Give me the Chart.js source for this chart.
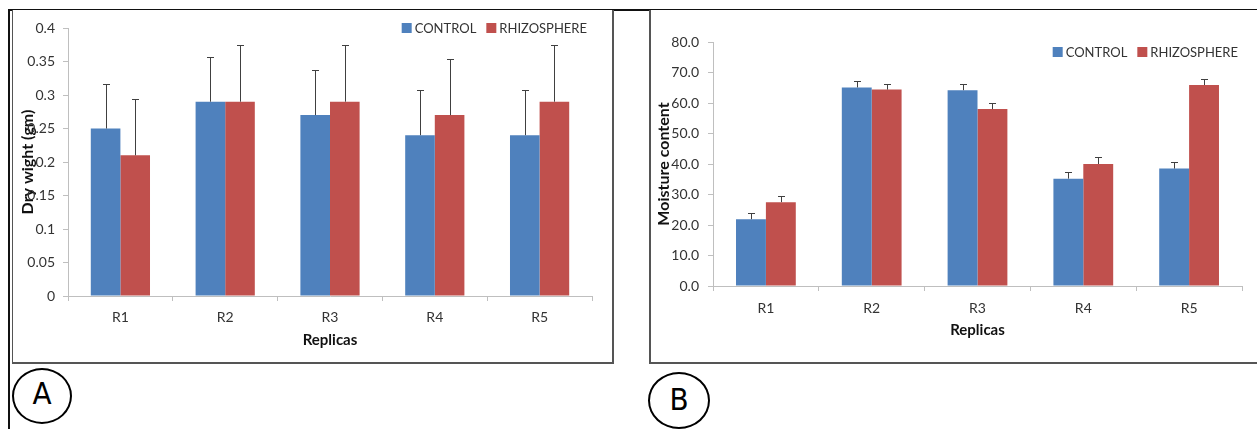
<!DOCTYPE html>
<html>
<head>
<meta charset="utf-8">
<script src="https://cdn.jsdelivr.net/npm/chart.js@4.4.0/dist/chart.umd.min.js"></script>
<style>
  html, body { margin: 0; padding: 0; background: #fff; }
  body { width: 1257px; height: 429px; position: relative; overflow: hidden; }
  .line { position: absolute; background: #111; }
  .panel { position: absolute; box-sizing: border-box; background: #fff; }
  #panelA { left: 12px; top: 10px; width: 602px; height: 354px; border: 2px solid #555; border-top: none; border-left-width: 1.5px; }
  #panelB { left: 649px; top: 10px; width: 620px; height: 354px; border: 2px solid #555; border-top: none; border-right: none; }
  .wrap { position: absolute; }
  .tag {
    position: absolute; box-sizing: border-box; border: 2px solid #000; border-radius: 50%;
    display: flex; align-items: center; justify-content: center;
    font-family: "Liberation Sans Narrow", "DejaVu Sans Condensed", sans-serif;
    font-size: 31px; color: #000; line-height: 1;
  }
</style>
</head>
<body>
<div class="line" style="left:8px; top:9px; width:1249px; height:2px;"></div>
<div class="line" style="left:8px; top:9px; width:2px; height:420px;"></div>
<div class="panel" id="panelA"></div>
<div class="panel" id="panelB"></div>
<div class="wrap" style="left:14px; top:11px; width:598px; height:351px;"><canvas id="chartA" width="598" height="351"></canvas></div>
<div class="wrap" style="left:651px; top:11px; width:606px; height:351px;"><canvas id="chartB" width="606" height="351"></canvas></div>
<div class="tag" style="left:12px; top:368px; width:60px; height:56px; padding-bottom:6px;">A</div>
<div class="tag" style="left:648px; top:372px; width:62px; height:57px; padding-bottom:2px;">B</div>

<script>
// ─── Data ─────────────────────────────────────────────
const replicas = ['R1', 'R2', 'R3', 'R4', 'R5'];

const dryControl = [0.25, 0.29, 0.27, 0.24, 0.24];
const dryRhizo   = [0.21, 0.29, 0.29, 0.27, 0.29];
const dryControlErr = [0.067, 0.066, 0.067, 0.067, 0.067];
const dryRhizoErr   = [0.084, 0.085, 0.085, 0.083, 0.085];
const dryTicks = ['0', '0.05', '0.1', '0.15', '0.2', '0.25', '0.3', '0.35', '0.4'];

const moistControl = [21.9, 65.1, 64.2, 35.2, 38.5];
const moistRhizo   = [27.5, 64.4, 58.0, 40.0, 65.9];
const moistControlErr = [2.1, 2.1, 2.0, 2.1, 2.1];
const moistRhizoErr   = [2.0, 1.9, 2.0, 2.2, 2.0];
const moistTicks = ['0.0', '10.0', '20.0', '30.0', '40.0', '50.0', '60.0', '70.0', '80.0'];

const BLUE = '#4F81BD';
const RED  = '#C0504D';
const AXIS = '#bfbfbf';
const FONT = 'Lato';

// ─── Plugins ──────────────────────────────────────────
const errorBars = {
  id: 'errorBars',
  afterDatasetsDraw(chart) {
    const { ctx } = chart;
    const y = chart.scales.y;
    ctx.save();
    ctx.strokeStyle = '#404040';
    ctx.lineWidth = 1;
    chart.data.datasets.forEach((ds, di) => {
      const meta = chart.getDatasetMeta(di);
      meta.data.forEach((bar, i) => {
        const top = Math.round(y.getPixelForValue(ds.data[i] + ds.errors[i])) + 0.5;
        const x = Math.round(bar.x) + 0.5;
        ctx.beginPath();
        ctx.moveTo(x, bar.y);
        ctx.lineTo(x, top);
        ctx.moveTo(x - 3.5, top);
        ctx.lineTo(x + 3.5, top);
        ctx.stroke();
      });
    });
    ctx.restore();
  }
};

// legend drawn inside the plot, top right
const insideLegend = {
  id: 'insideLegend',
  afterDraw(chart, args, opts) {
    const { ctx, chartArea } = chart;
    ctx.save();
    ctx.font = `13px ${FONT}`;
    ctx.textBaseline = 'middle';
    const box = 10, gap = 3, spacing = 10;
    const items = chart.data.datasets.map(ds => ({
      text: ds.label, color: ds.backgroundColor, w: ctx.measureText(ds.label).width
    }));
    const total = items.reduce((s, it) => s + box + gap + it.w, 0) + spacing * (items.length - 1);
    let x = chartArea.right - opts.right - total;
    const yc = chartArea.top + opts.dy;
    items.forEach(it => {
      ctx.fillStyle = it.color;
      ctx.fillRect(x, yc - box / 2, box, box);
      ctx.fillStyle = '#333';
      ctx.fillText(it.text, x + box + gap, yc + 0.5);
      x += box + gap + it.w + spacing;
    });
    ctx.restore();
  }
};

// ─── Chart builder ────────────────────────────────────
function makeBarChart(id, cfg) {
  const ctx = document.getElementById(id).getContext('2d');
  return new Chart(ctx, {
    type: 'bar',
    data: {
      labels: replicas,
      datasets: [
        { label: 'CONTROL', data: cfg.control, errors: cfg.controlErr, backgroundColor: BLUE },
        { label: 'RHIZOSPHERE', data: cfg.rhizo, errors: cfg.rhizoErr, backgroundColor: RED }
      ]
    },
    options: {
      responsive: false,
      animation: false,
      layout: { padding: cfg.padding },
      datasets: { bar: { categoryPercentage: 0.565, barPercentage: 1 } },
      plugins: {
        legend: { display: false },
        tooltip: { enabled: false },
        insideLegend: cfg.legend
      },
      scales: {
        x: {
          afterFit(s) { s.height = cfg.xHeight; },
          grid: { display: true, drawOnChartArea: false, drawTicks: true, tickLength: 5, color: AXIS },
          border: { display: true, color: AXIS },
          ticks: { color: '#333', font: { family: FONT, size: 14 }, padding: cfg.xTickPad },
          title: {
            display: true, text: 'Replicas', color: '#111',
            font: { family: FONT, size: 15, weight: 'bold' },
            padding: { top: 0, bottom: cfg.xTitlePad }
          }
        },
        y: {
          min: 0, max: cfg.max,
          afterFit(s) { s.width = cfg.yWidth; },
          grid: { display: true, drawOnChartArea: false, drawTicks: true, tickLength: 5, color: AXIS },
          border: { display: true, color: AXIS },
          ticks: {
            stepSize: cfg.max / 8,
            color: '#333',
            font: { family: FONT, size: 14 },
            padding: cfg.yTickPad,
            callback: (v, i) => cfg.ticks[i]
          },
          title: {
            display: true, text: cfg.yTitle, color: '#111',
            font: { family: FONT, size: 16, weight: 'bold' },
            padding: { top: cfg.yTitlePad, bottom: 0 }
          }
        }
      }
    },
    plugins: [errorBars, insideLegend]
  });
}

makeBarChart('chartA', {
  control: dryControl, rhizo: dryRhizo,
  controlErr: dryControlErr, rhizoErr: dryRhizoErr,
  ticks: dryTicks, max: 0.4, yTitle: 'Dry wight (gm)',
  padding: { left: 0, right: 20, top: 17, bottom: 0 },
  yWidth: 54, xHeight: 66, yTickPad: 8, xTickPad: 8, xTitlePad: 13, yTitlePad: 4.5,
  legend: { right: 5, dy: 0 }
});

makeBarChart('chartB', {
  control: moistControl, rhizo: moistRhizo,
  controlErr: moistControlErr, rhizoErr: moistRhizoErr,
  ticks: moistTicks, max: 80, yTitle: 'Moisture content',
  padding: { left: 0, right: 15, top: 31, bottom: 0 },
  yWidth: 62, xHeight: 76, yTickPad: 9, xTickPad: 9, xTitlePad: 23, yTitlePad: 3.5,
  legend: { right: 4, dy: 10 }
});
</script>
</body>
</html>
